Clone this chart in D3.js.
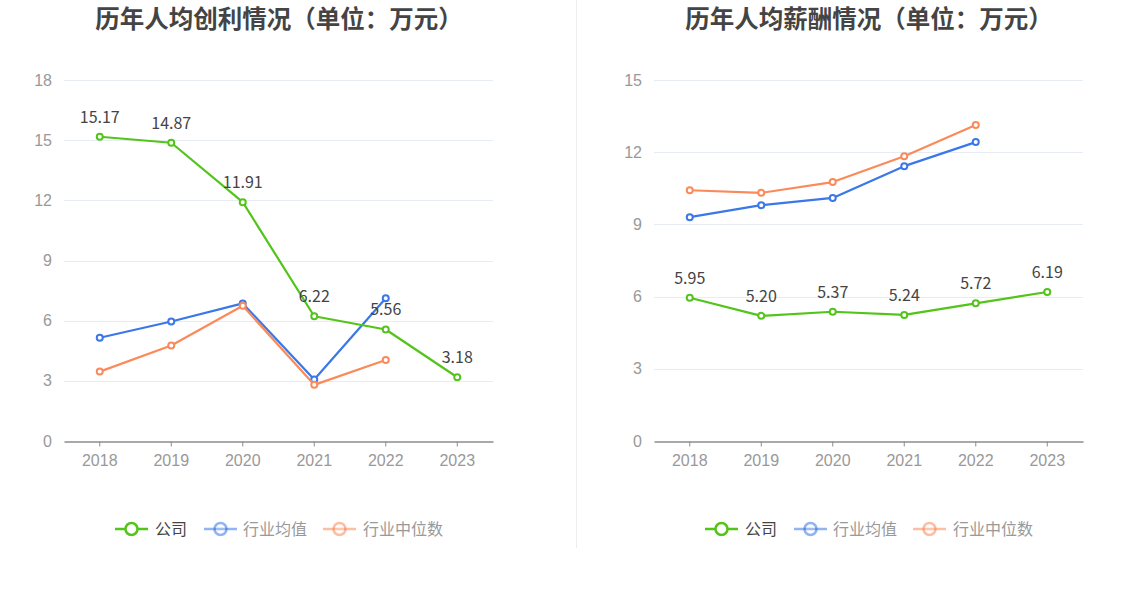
<!DOCTYPE html>
<html><head><meta charset="utf-8">
<script src="https://cdn.jsdelivr.net/npm/d3@7"></script>
<style>
html,body{margin:0;padding:0;background:#fff;}
svg{display:block;font-family:"Noto Sans CJK SC","Noto Sans",sans-serif;}
</style></head>
<body><svg id="c" width="1148" height="589"></svg>
<script>
const years = ["2018","2019","2020","2021","2022","2023"];
const seriesNames = ["公司","行业均值","行业中位数"];
const seriesColors = ["#52c41a","#3a77e8","#fb8a5a"];

const profitTitle = "历年人均创利情况（单位：万元）";
const profitCompany = [15.17, 14.87, 11.91, 6.22, 5.56, 3.18];
const profitAvg = [5.15, 5.96, 6.86, 3.07, 7.12, null];
const profitMedian = [3.46, 4.76, 6.74, 2.8, 4.04, null];
const profitTicks = [0, 3, 6, 9, 12, 15, 18];

const salaryTitle = "历年人均薪酬情况（单位：万元）";
const salaryCompany = [5.95, 5.20, 5.37, 5.24, 5.72, 6.19];
const salaryAvg = [9.30, 9.80, 10.10, 11.42, 12.42, null];
const salaryMedian = [10.42, 10.31, 10.76, 11.83, 13.13, null];
const salaryTicks = [0, 3, 6, 9, 12, 15];

const svg = d3.select("#c");

// divider
svg.append("line").attr("x1",576.5).attr("x2",576.5).attr("y1",0).attr("y2",548)
  .attr("stroke","#eeeeee").attr("stroke-width",1);

function drawChart(ox, titleX, title, company, avg, median, ticks) {
  const g = svg.append("g").attr("transform", `translate(${ox},0)`);
  const left = 64, right = 493, top = 80, bottom = 441;
  const x = d3.scaleBand().domain(years).range([left, right]);
  const y = d3.scaleLinear().domain([0, d3.max(ticks)]).range([bottom, top]);

  svg.append("text").attr("x", titleX).attr("y", 28).attr("text-anchor","middle")
    .attr("font-size", 24.5).attr("font-weight","bold").attr("fill","#444").text(title);

  // grid
  g.selectAll(".grid").data(ticks.filter(t=>t>0)).join("line")
    .attr("x1", left).attr("x2", right)
    .attr("y1", d=>Math.round(y(d))+0.5).attr("y2", d=>Math.round(y(d))+0.5)
    .attr("stroke","#e6ebf5").attr("stroke-width",1);

  // y axis labels
  const ya = g.append("g").attr("transform",`translate(${left},0)`)
    .call(d3.axisLeft(y).tickValues(ticks).tickSize(0).tickPadding(12));
  ya.select(".domain").remove();
  ya.selectAll("text").attr("font-size",16).attr("fill","#999").attr("font-family","inherit");

  // x axis
  const xa = g.append("g").attr("transform",`translate(0,${Math.round(bottom)+0.5})`)
    .call(d3.axisBottom(x).tickSize(5).tickSizeOuter(0).tickPadding(8));
  xa.select(".domain").attr("stroke","#8c8c8c").attr("stroke-width",1.5);
  xa.selectAll(".tick line").attr("stroke","#8c8c8c");
  xa.selectAll("text").attr("font-size",16).attr("fill","#999").attr("font-family","inherit");

  const cx = d => x(d) + x.bandwidth()/2;
  const data = [company, avg, median];
  [1,2,0].forEach(si => {
    const vals = data[si];
    const pts = years.map((yr,i)=>({yr, v: vals[i]})).filter(p=>p.v!=null);
    const line = d3.line().x(p=>cx(p.yr)).y(p=>y(p.v));
    g.append("path").datum(pts).attr("d", line).attr("fill","none")
      .attr("stroke", seriesColors[si]).attr("stroke-width",2.2).attr("stroke-linejoin","round");
    g.selectAll(null).data(pts).join("circle")
      .attr("cx", p=>cx(p.yr)).attr("cy", p=>y(p.v)).attr("r",3)
      .attr("fill","#fff").attr("stroke", seriesColors[si]).attr("stroke-width",2);
    if (si === 0) {
      g.selectAll(null).data(pts).join("text")
        .attr("x", p=>cx(p.yr)).attr("y", p=>y(p.v)-14)
        .attr("text-anchor","middle").attr("font-size",16).attr("fill","#444")
        .text(p=>p.v.toFixed(2));
    }
  });

  // legend
  const lg = g.append("g").attr("transform","translate(0,529)");
  const items = [{x:115, w:33, tx:155}, {x:204, w:33, tx:243}, {x:323, w:33, tx:363}];
  items.forEach((it, i) => {
    const op = i===0 ? 1 : 0.55;
    lg.append("line").attr("x1",it.x).attr("x2",it.x+it.w).attr("y1",0).attr("y2",0)
      .attr("stroke",seriesColors[i]).attr("stroke-width",2.5).attr("opacity",op);
    lg.append("circle").attr("cx",it.x+it.w/2).attr("cy",0).attr("r",6)
      .attr("fill","#fff").attr("stroke",seriesColors[i]).attr("stroke-width",2.5).attr("opacity",op);
    if (i>0) lg.append("line").attr("x1",it.x+it.w/2-6).attr("x2",it.x+it.w/2+6).attr("y1",0).attr("y2",0)
      .attr("stroke",seriesColors[i]).attr("stroke-width",2.5).attr("opacity",0.3);
    lg.append("text").attr("x",it.tx).attr("y",6).attr("font-size",16)
      .attr("fill", i===0 ? "#444" : "#999").text(seriesNames[i]);
  });
}

drawChart(0, 279, profitTitle, profitCompany, profitAvg, profitMedian, profitTicks);
drawChart(590, 869, salaryTitle, salaryCompany, salaryAvg, salaryMedian, salaryTicks);
</script></body></html>
